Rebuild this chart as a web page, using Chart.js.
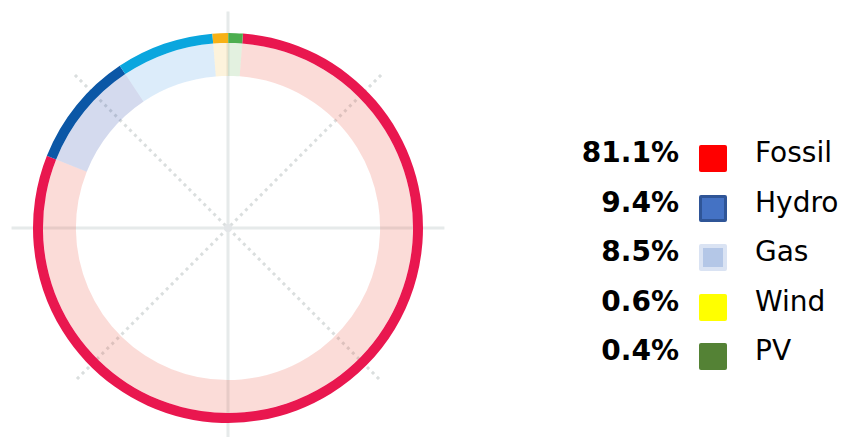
<!DOCTYPE html>
<html>
<head>
<meta charset="utf-8">
<script src="https://cdn.jsdelivr.net/npm/chart.js@4.4.1/dist/chart.umd.min.js"></script>
<style>
  body { margin: 0; background: #fff; width: 842px; height: 437px; overflow: hidden; position: relative; font-family: "DejaVu Sans", sans-serif; }
  #wrap { position: absolute; left: 0; top: 0; width: 456px; height: 437px; }
  #legend { position: absolute; left: 560px; top: 128px; }
  .row { display: flex; align-items: center; height: 49.5px; }
  .pct { width: 119px; text-align: right; font-weight: bold; font-size: 28px; color: #000; }
  .box { width: 28px; height: 27px; margin-left: 20px; margin-right: 28px; box-sizing: border-box; border-radius: 2px; position: relative; top: 6px; }
  .lbl { font-size: 28px; color: #000; }
</style>
</head>
<body>
<div id="wrap"><canvas id="donut"></canvas></div>
<div id="legend"></div>
<script>
// categories and values
const categories = ['Fossil', 'Hydro', 'Gas', 'Wind', 'PV'];
const sharePct = [81.1, 9.4, 8.5, 0.6, 0.4];          // legend numbers
const arcShare = [79.9, 9.6, 8.1, 1.3, 1.2];          // arc sizes as drawn in the ring
const ringColors = ['#e9174f', '#0b57a6', '#0aa6de', '#f7b116', '#4cae4f'];
const bandColors = ['rgba(235,80,60,0.2)', 'rgba(40,70,170,0.2)', 'rgba(60,150,230,0.18)', 'rgba(245,180,40,0.16)', 'rgba(80,170,60,0.16)'];
const legendFill = ['#ff0000', '#4472c4', '#b4c7e7', '#ffff00', '#548235'];
const legendBorder = ['#ff0000', '#2f5597', '#dae3f3', '#ffff00', '#548235'];

// legend
const legend = document.getElementById('legend');
categories.forEach((c, i) => {
    const row = document.createElement('div');
    row.className = 'row';
    const bw = (i === 1) ? 3 : (i === 2 ? 4 : 0);
    row.innerHTML = '<span class="pct">' + sharePct[i].toFixed(1) + '%</span>' +
        '<span class="box" style="background:' + legendFill[i] + ';border:' + bw + 'px solid ' + legendBorder[i] + '"></span>' +
        '<span class="lbl">' + c + '</span>';
    legend.appendChild(row);
});

// grid lines behind the ring
const radialGrid = {
    id: 'radialGrid',
    beforeDatasetsDraw(chart) {
        const arc = chart.getDatasetMeta(0).data[0];
        const { x, y, outerRadius } = arc.getProps(['x', 'y', 'outerRadius'], true);
        const r = outerRadius * 1.11;
        const ctx = chart.ctx;
        ctx.save();
        ctx.strokeStyle = '#e6eaea';
        ctx.lineWidth = 3;
        ctx.beginPath();
        ctx.moveTo(x - r, y); ctx.lineTo(x + r, y);
        ctx.moveTo(x, y - r); ctx.lineTo(x, y + r);
        ctx.stroke();
        ctx.strokeStyle = '#dadede';
        ctx.lineWidth = 3;
        ctx.setLineDash([3, 4]);
        const d = r / Math.SQRT2;
        ctx.beginPath();
        ctx.moveTo(x - d, y - d); ctx.lineTo(x + d, y + d);
        ctx.moveTo(x + d, y - d); ctx.lineTo(x - d, y + d);
        ctx.stroke();
        ctx.setLineDash([]);
        ctx.fillStyle = '#e3e6e8';
        ctx.beginPath();
        ctx.arc(x, y, 4, 0, Math.PI * 2);
        ctx.fill();
        ctx.restore();
    }
};

const ctx = document.getElementById('donut').getContext('2d');
const donut = new Chart(ctx, {
    type: 'doughnut',
    data: {
        labels: categories,
        datasets: [{
            data: arcShare,
            backgroundColor: ringColors,
            borderWidth: 0,
            weight: 10
        }, {
            data: arcShare,
            backgroundColor: bandColors,
            borderWidth: 0,
            weight: 33
        }]
    },
    options: {
        responsive: true,
        maintainAspectRatio: false,
        animation: false,
        rotation: 4.4,
        cutout: '78%',
        layout: { padding: { top: 33, bottom: 14, left: 33, right: 33 } },
        plugins: { legend: { display: false }, tooltip: { enabled: false } }
    },
    plugins: [radialGrid]
});
</script>
</body>
</html>
